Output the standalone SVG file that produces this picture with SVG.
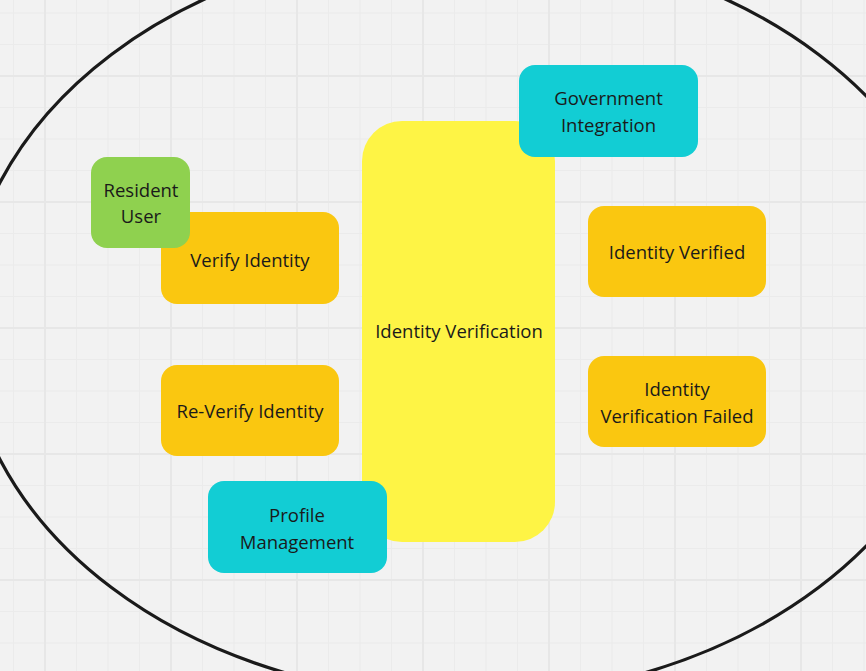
<svg xmlns="http://www.w3.org/2000/svg" width="866" height="671" viewBox="0 0 866 671">
  <defs>
    <pattern id="grid" x="45" y="76" width="126" height="126" patternUnits="userSpaceOnUse">
      <rect width="126" height="126" fill="#f2f2f2"/>
      <path d="M31.5 0V126M63 0V126M94.5 0V126M0 31.5H126M0 63H126M0 94.5H126" stroke="#ebebeb" stroke-width="1" fill="none"/>
      <path d="M0 0V126M126 0V126M0 0H126M0 126H126" stroke="#e7e7e7" stroke-width="2" fill="none"/>
    </pattern>
    <style>
      .n text { font-family: "Open Sans", "Noto Sans", "Liberation Sans", sans-serif; font-size: 18.5px; fill: #1a1a1a; text-anchor: middle; }
      .green { fill: #8fd14f; }
      .orange { fill: #fac710; }
      .yellow { fill: #fef445; }
      .cyan { fill: #12cdd4; }
      .boundary { fill: none; stroke: #1a1a1a; stroke-width: 3.2; }
    </style>
  </defs>
  <rect width="866" height="671" fill="url(#grid)"/>

  <g id="system-boundary">
    <ellipse class="boundary" cx="465" cy="321" rx="500" ry="377"/>
  </g>

  <g id="connectors"></g>

  <g id="identity-verification" class="n">
    <rect class="yellow" x="362" y="121" width="193" height="421" rx="40" ry="40"/>
    <text x="459" y="338">Identity Verification</text>
  </g>

  <g id="verify-identity" class="n">
    <rect class="orange" x="161" y="212" width="178" height="92" rx="16" ry="16"/>
    <text x="250" y="266.5">Verify Identity</text>
  </g>

  <g id="resident-user" class="n">
    <rect class="green" x="91" y="157" width="99" height="91" rx="16" ry="16"/>
    <text x="141" y="197">Resident</text>
    <text x="141" y="223">User</text>
  </g>

  <g id="re-verify-identity" class="n">
    <rect class="orange" x="161" y="365" width="178" height="91" rx="16" ry="16"/>
    <text x="250" y="418">Re-Verify Identity</text>
  </g>

  <g id="profile-management" class="n">
    <rect class="cyan" x="208" y="481" width="179" height="92" rx="16" ry="16"/>
    <text x="297" y="521.5">Profile</text>
    <text x="297" y="548.5">Management</text>
  </g>

  <g id="government-integration" class="n">
    <rect class="cyan" x="519" y="65" width="179" height="92" rx="16" ry="16"/>
    <text x="608.5" y="105">Government</text>
    <text x="608.5" y="131.5">Integration</text>
  </g>

  <g id="identity-verified" class="n">
    <rect class="orange" x="588" y="206" width="178" height="91" rx="16" ry="16"/>
    <text x="677" y="259">Identity Verified</text>
  </g>

  <g id="identity-verification-failed" class="n">
    <rect class="orange" x="588" y="356" width="178" height="91" rx="16" ry="16"/>
    <text x="677" y="396">Identity</text>
    <text x="677" y="422.5">Verification Failed</text>
  </g>
</svg>
